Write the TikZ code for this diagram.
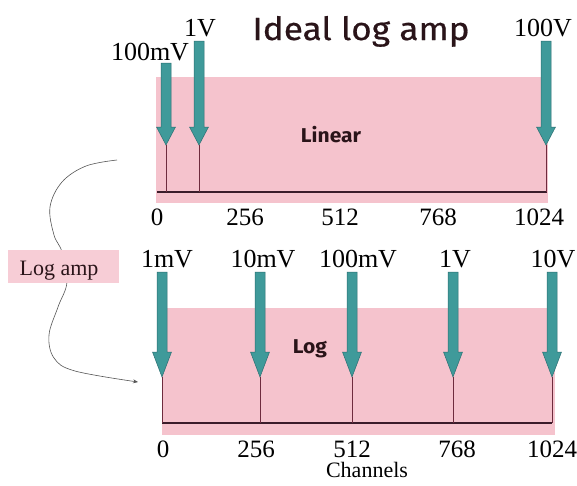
\documentclass[tikz,border=0pt]{standalone}
\usepackage{fontspec}
\setmainfont{Liberation Serif}
\newfontfamily\titlefont[FakeStretch=1.1,FakeBold=0.6]{Fira Sans}
\newfontfamily\modefont[FakeStretch=1.05]{Fira Sans}
\usetikzlibrary{arrows.meta}
\definecolor{pinkbg}{HTML}{F5C3CD}
\definecolor{pinkbox}{HTML}{F7CDD6}
\definecolor{tealfill}{HTML}{3F9A9A}
\definecolor{tealedge}{HTML}{2C6F72}
\definecolor{stemcol}{HTML}{6E2C3E}
\definecolor{axiscol}{HTML}{3A1C2A}
\definecolor{curvecol}{HTML}{555555}
\definecolor{inkcol}{HTML}{2A1419}
\tikzset{
  panel/.style={fill=pinkbg, draw=none},
  axisline/.style={draw=axiscol, line width=2pt},
  stemline/.style={draw=stemcol, line width=0.9pt},
  volt/.style={inner sep=0pt, font=\rmfamily\fontsize{26}{26}\selectfont},
  tick/.style={inner sep=0pt, font=\rmfamily\fontsize{25}{25}\selectfont},
  bigtitle/.style={inner sep=0pt, anchor=base, text=inkcol, font=\titlefont\fontsize{32}{32}\selectfont},
  mode/.style={inner sep=0pt, anchor=base, text=inkcol, font=\modefont\bfseries\fontsize{20}{20}\selectfont},
  lognote/.style={fill=pinkbox, inner sep=0pt, minimum width=111pt, minimum height=33pt},
}
% #1 x, #2 shaft top, #3 head start, #4 tip
\newcommand\voltarrow[4]{%
  \filldraw[fill=tealfill, draw=tealedge, line width=0.5pt]
    (#1-5,#2) -- (#1+5,#2) -- (#1+5,#3) -- (#1+9.5,#3) -- (#1,#4)
    -- (#1-9.5,#3) -- (#1-5,#3) -- cycle;
}
\begin{document}
\begin{tikzpicture}[x=1pt,y=-1pt]
\useasboundingbox (0,0) rectangle (577,485);
\fill[white] (0,0) rectangle (577,485);

% ---------- top panel (linear) ----------
\fill[panel] (156,77) rectangle (548,203);
\coordinate (la0) at (157,192);
\coordinate (la1) at (547,192);
\draw[axisline] (la0) -- (la1);

\node[bigtitle] (title) at (361,40) {Ideal log amp};
\node[mode] (linear) at (331,142) {Linear};

\foreach \n/\x/\top/\lab/\lx/\ly in {a/166/63/100mV/150/52, b/199/41/1V/200/28, c/546/41/100V/543/28}{
  \node[volt] (tv\n) at (\lx,\ly) {\lab};
  \voltarrow{\x}{\top}{127}{145}
  \coordinate (tt\n) at (\x,145);
  \coordinate (tb\n) at (\x,192);
  \draw[stemline] (tt\n) -- (tb\n);
}

\foreach \n/\x/\lab in {a/157/0, b/245/256, c/340/512, d/438/768, e/539/1024}{
  \node[tick] (tk\n) at (\x,217) {\lab};
}

% ---------- curly connector and Log amp ----------
\coordinate (cstart) at (117,160);
\coordinate (cend) at (138,382);
\draw[curvecol, line width=0.6pt, -{Stealth[length=5pt,width=4pt]}]
  plot[smooth, tension=0.6] coordinates {(117,160) (86,166) (62,182) (50,207) (54,235) (62,252) (67,282) (58,307) (49,335) (54,358) (75,371) (138,382)};
\node[lognote] (logamp) at (63.5,266.5) {};
\node[inner sep=0pt, anchor=base, text=inkcol, font=\rmfamily\fontsize{22}{22}\selectfont] (logamptext) at (59,275) {Log amp};

% ---------- bottom panel (log) ----------
\fill[panel] (162,308) rectangle (555,435);
\coordinate (lb0) at (162,423);
\coordinate (lb1) at (552,423);
\draw[axisline] (lb0) -- (lb1);

\node[mode] (log) at (310,353) {Log};

\foreach \n/\x/\lab/\lx in {a/162/1mV/167, b/260/10mV/263, c/352/100mV/358, d/453/1V/455, e/552/10V/553}{
  \node[volt] (bv\n) at (\lx,259) {\lab};
  \voltarrow{\x}{272}{352}{377}
  \coordinate (bt\n) at (\x,377);
  \coordinate (bb\n) at (\x,423);
  \draw[stemline] (bt\n) -- (bb\n);
}

\foreach \n/\x/\lab in {a/163/0, b/256/256, c/352/512, d/457/768, e/552/1024}{
  \node[tick] (bk\n) at (\x,449) {\lab};
}
\node[inner sep=0pt, font=\rmfamily\fontsize{22}{22}\selectfont] (channels) at (367,470) {Channels};
\end{tikzpicture}
\end{document}
